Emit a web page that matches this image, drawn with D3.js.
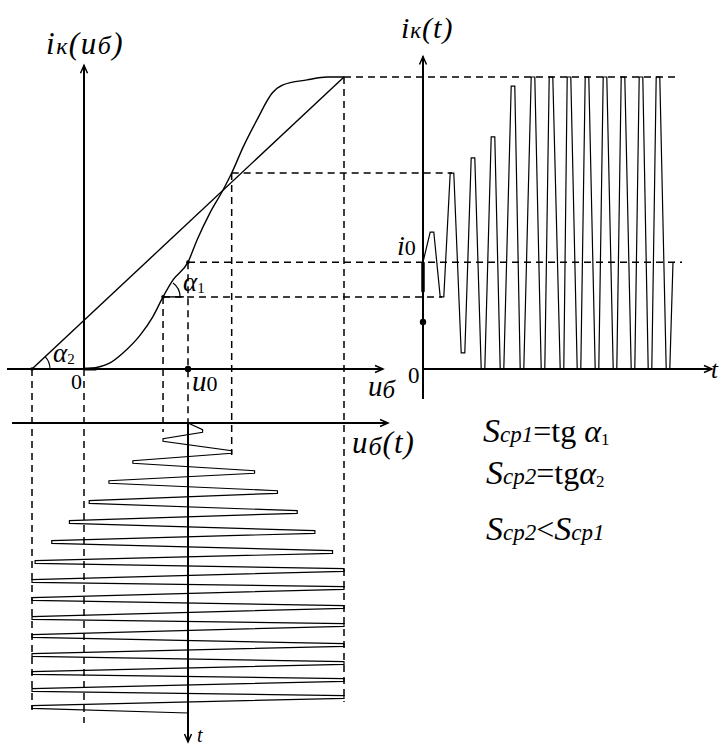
<!DOCTYPE html>
<html>
<head>
<meta charset="utf-8">
<script src="https://cdn.jsdelivr.net/npm/d3@7"></script>
<style>
body { margin: 0; background: #fff; }
text { font-family: "Liberation Serif", "DejaVu Serif", serif; fill: #000; }
.it { font-style: italic; }
</style>
</head>
<body>
<script>
// transfer characteristic i_k(u_b): u in units of u0, i in units of i_max
var curveU = [0, 0.12, 0.25, 0.375, 0.54, 0.66, 0.76, 0.856, 1.0, 1.087, 1.21, 1.337, 1.42, 1.53, 1.663, 1.81, 1.913, 2.144, 2.34, 2.5];
var curveI = [0, 0.005, 0.021, 0.055, 0.116, 0.178, 0.247, 0.305, 0.366, 0.442, 0.534, 0.613, 0.671, 0.760, 0.853, 0.945, 0.973, 0.990, 1.0, 1.0];

// straight (averaged) characteristic
var lineU = [-0.5, 2.5];
var lineI = [0, 1];

// input voltage u_b(t), extremes of each half period
var inTime = [0, 0.8, 1.7, 2.9, 3.9, 4.9, 5.9, 6.9, 7.9, 8.9, 9.9, 10.9, 11.9, 12.9, 13.9,
  14.7, 15.8, 16.5, 17.6, 18.4, 19.5, 20.2, 21.3, 22.2, 23.2, 24.0, 25.0, 25.7, 26.7, 27.4, 28.4, 29.0];
var inU = [1, 1.14, 0.76, 1.42, 0.47, 1.64, 0.24, 1.86, 0.05, 2.05, -0.14, 2.22, -0.31, 2.39, -0.47,
  2.5, -0.5, 2.5, -0.5, 2.5, -0.5, 2.5, -0.5, 2.5, -0.5, 2.5, -0.5, 2.5, -0.5, 2.5, -0.5, 1];

// collector current i_k(t), extremes of each half period
var outTime = [0, 0.9, 1.9, 2.9, 4.0, 5.0, 6.0, 7.0, 7.9, 9.0, 9.9, 11.0, 12.0, 12.8, 13.9,
  14.6, 15.6, 16.4, 17.4, 18.2, 19.2, 20.0, 21.0, 21.8, 22.7, 23.5, 24.5, 25.0];
var outI = [0.366, 0.469, 0.247, 0.671, 0.055, 0.723, 0, 0.795, 0, 0.969, 0, 1, 0, 1, 0,
  1, 0, 1, 0, 1, 0, 1, 0, 1, 0, 1, 0, 0.366];

// marked points
var u0 = 1, i0 = 0.366;

var W = 722, H = 747;
var svg = d3.select("body").append("svg").attr("width", W).attr("height", H);

var uX = d3.scaleLinear().domain([0, 1]).range([84, 188]);   // u -> x (left and bottom panels)
var iY = d3.scaleLinear().domain([0, 1]).range([369, 77]);   // i -> y (left and right panels)
var tB = d3.scaleLinear().domain([0, 30]).range([423, 723]); // t -> y (bottom panel)
var tR = d3.scaleLinear().domain([0, 30]).range([423, 723]); // t -> x (right panel)

function zipPts(a, b) {
  return a.map(function (d, k) { return { a: d, b: b[k] }; });
}

// every tip drawn as a narrow flat, so the way out and back shows as two lines
function flatTips(times, vals, w) {
  var out = [];
  times.forEach(function (t, k) {
    var v = vals[k];
    if (k > 0 && k < times.length - 1) {
      out.push({ t: t - w, v: v });
      out.push({ t: t + w, v: v });
    } else {
      out.push({ t: t, v: v });
    }
  });
  return out;
}

function seg(x1, y1, x2, y2) {
  return svg.append("line").attr("x1", x1).attr("y1", y1).attr("x2", x2).attr("y2", y2)
    .attr("stroke", "#000");
}

function arrow(x, y, dx, dy) {
  var L = 8, s = 3.5;
  var px = -dy, py = dx;
  svg.append("path")
    .attr("d", "M" + (x - dx * L + px * s) + "," + (y - dy * L + py * s) + "L" + x + "," + y +
      "L" + (x - dx * L - px * s) + "," + (y - dy * L - py * s))
    .attr("fill", "none").attr("stroke", "#000").attr("stroke-width", 1.5);
}

// ---- dashed construction lines
var dash = svg.append("g").attr("stroke", "#000").attr("stroke-width", 1.5)
  .attr("stroke-dasharray", "7,5").attr("fill", "none");
function dline(x1, y1, x2, y2) {
  dash.append("line").attr("x1", x1).attr("y1", y1).attr("x2", x2).attr("y2", y2);
}
dline(uX(2.5), iY(1), tR(25.4), iY(1));
dline(uX(1.42), iY(0.671), tR(2.9), iY(0.671));
dline(uX(u0), iY(i0), tR(25.9), iY(i0));
dline(uX(0.76), iY(0.247), tR(1.9), iY(0.247));
dline(uX(-0.5), iY(0), uX(-0.5), tB(28.7));
dline(uX(0), iY(0), uX(0), tB(30));
dline(uX(0.76), iY(0.247), uX(0.76), tB(0.9));
dline(uX(u0), iY(i0), uX(u0), tB(0));
dline(uX(1.42), iY(0.671), uX(1.42), tB(3.2));
dline(uX(2.5), iY(1), uX(2.5), tB(27.9));

// ---- axes
var ax = svg.append("g").attr("stroke", "#000").attr("stroke-width", 2);
ax.append("line").attr("x1", uX(0)).attr("y1", iY(0)).attr("x2", uX(0)).attr("y2", iY(1.04));
ax.append("line").attr("x1", 7).attr("y1", iY(0)).attr("x2", 383).attr("y2", iY(0));
ax.append("line").attr("x1", 12).attr("y1", tB(0)).attr("x2", 388).attr("y2", tB(0));
ax.append("line").attr("x1", uX(u0)).attr("y1", tB(0)).attr("x2", uX(u0)).attr("y2", 742);
ax.append("line").attr("x1", tR(0)).attr("y1", 399).attr("x2", tR(0)).attr("y2", iY(1.07));
ax.append("line").attr("x1", tR(0)).attr("y1", iY(0)).attr("x2", 712).attr("y2", iY(0));
arrow(uX(0), iY(1.04), 0, -1);
arrow(383, iY(0), 1, 0);
arrow(388, tB(0), 1, 0);
arrow(uX(u0), 742, 0, 1);
arrow(tR(0), iY(1.07), 0, -1);
arrow(712, iY(0), 1, 0);

// ---- characteristics
var lineUI = d3.line().x(function (d) { return uX(d.a); }).y(function (d) { return iY(d.b); });
svg.append("path").datum(zipPts(lineU, lineI)).attr("d", lineUI)
  .attr("fill", "none").attr("stroke", "#000").attr("stroke-width", 1.4);
svg.append("path").datum(zipPts(curveU, curveI)).attr("d", lineUI.curve(d3.curveMonotoneX))
  .attr("fill", "none").attr("stroke", "#000").attr("stroke-width", 1.4);
seg(uX(0), iY(0), uX(0.12), iY(0)).attr("stroke-width", 3);

// angle alpha1 (between the points 0.76 and u0 on the curve)
var ax1 = uX(0.76), ay1 = iY(0.247);
seg(ax1, ay1, uX(u0) - 4, ay1).attr("stroke-width", 1.4);
var a1 = Math.atan2(ay1 - iY(i0), uX(u0) - ax1);
svg.append("path").attr("transform", "translate(" + ax1 + "," + ay1 + ")")
  .attr("d", d3.arc()({ innerRadius: 17, outerRadius: 17, startAngle: Math.PI / 2 - a1, endAngle: Math.PI / 2 }))
  .attr("fill", "none").attr("stroke", "#000").attr("stroke-width", 1.2);
// angle alpha2
var ax2 = uX(lineU[0]), ay2 = iY(lineI[0]);
var a2 = Math.atan2(iY(lineI[0]) - iY(lineI[1]), uX(lineU[1]) - uX(lineU[0]));
svg.append("path").attr("transform", "translate(" + ax2 + "," + ay2 + ")")
  .attr("d", d3.arc()({ innerRadius: 18, outerRadius: 18, startAngle: Math.PI / 2 - a2, endAngle: Math.PI / 2 }))
  .attr("fill", "none").attr("stroke", "#000").attr("stroke-width", 1.2);

// ---- input u_b(t), time running downward
var inPts = flatTips(inTime, inU, 0.13);
svg.append("path").datum(inPts)
  .attr("d", d3.line().x(function (d) { return uX(d.v); }).y(function (d) { return tB(d.t); }))
  .attr("fill", "none").attr("stroke", "#000").attr("stroke-width", 1.2);

// ---- output i_k(t)
var outPts = flatTips(outTime, outI, 0.18);
svg.append("path").datum(outPts)
  .attr("d", d3.line().x(function (d) { return tR(d.t); }).y(function (d) { return iY(d.v); }))
  .attr("fill", "none").attr("stroke", "#000").attr("stroke-width", 1.2);
seg(tR(0), iY(i0), tR(0), iY(0.264)).attr("stroke-width", 3.5);

// ---- dots
svg.append("circle").attr("cx", uX(u0)).attr("cy", iY(0)).attr("r", 3.2);
svg.append("circle").attr("cx", tR(0)).attr("cy", iY(0.161)).attr("r", 3.2);
[[-0.5, 0], [0.76, 0.247], [u0, i0]].forEach(function (p) {
  svg.append("circle").attr("cx", uX(p[0])).attr("cy", iY(p[1])).attr("r", 1.8);
});

// ---- labels
function label(x, y, parts, ls) {
  var t = svg.append("text").attr("x", x).attr("y", y);
  if (ls) t.attr("letter-spacing", ls);
  parts.forEach(function (p) {
    var s = t.append("tspan").text(p[0]).attr("font-size", p[1]);
    if (p[2]) s.attr("class", "it");
    if (p[3]) s.attr("dy", p[3]);
  });
  return t;
}
label(46, 54, [["i", 31, 1], ["к", 24, 1], ["(u", 31, 1], ["б", 26, 1], [")", 31, 1]], 1.5);
label(401, 38, [["i", 30, 1], ["к", 23, 1], ["(t)", 30, 1]], 1);
label(53, 362, [["α", 27, 1], ["2", 15, 0, 2]]);
label(183, 291, [["α", 27, 1], ["1", 15, 0, 2]]);
label(71, 389, [["0", 22]]);
label(192, 391, [["u", 29, 1], ["0", 22, 0]]);
label(368, 396, [["u", 29, 1], ["б", 25, 1, 2]]);
label(352, 453, [["u", 31, 1], ["б", 26, 1, 2], ["(t)", 31, 1, -2]], 1);
label(397, 255, [["i", 28, 1], ["0", 22, 0]]);
label(408, 383, [["0", 23]]);
label(711, 378, [["t", 25, 1]]);
label(197, 742, [["t", 20, 1]]);

label(483, 442, [["S", 34, 1], ["ср1", 23, 1], ["=tg ", 32, 0], ["α", 32, 1], ["1", 17, 0, 3]]);
label(486, 484, [["S", 34, 1], ["ср2", 23, 1], ["=tg", 32, 0], ["α", 32, 1], ["2", 17, 0, 3]]);
label(486, 540, [["S", 34, 1], ["ср2", 23, 1], ["<", 32, 0], ["S", 34, 1], ["ср1", 23, 1]]);
</script>
</body>
</html>
